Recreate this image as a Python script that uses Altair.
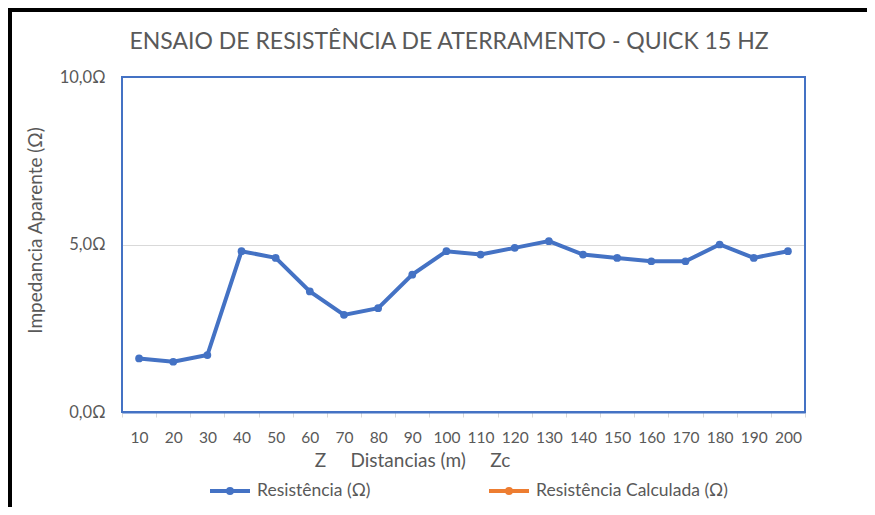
import altair as alt
import pandas as pd

distances = ["10", "20", "30", "40", "50", "60", "70", "80", "90", "100",
             "110", "120", "130", "140", "150", "160", "170", "180", "190", "200"]
resistencia = [1.6, 1.5, 1.7, 4.8, 4.6, 3.6, 2.9, 3.1, 4.1, 4.8,
               4.7, 4.9, 5.1, 4.7, 4.6, 4.5, 4.5, 5.0, 4.6, 4.8]
series_names = ["Resistência (Ω)", "Resistência Calculada (Ω)"]
series_colors = ["#4472C4", "#ED7D31"]
y_ticks = [0, 5, 10]
title_text = "ENSAIO DE RESISTÊNCIA DE ATERRAMENTO - QUICK 15 HZ"

df = pd.DataFrame({"dist": distances, "val": resistencia, "serie": series_names[0]})
one = pd.DataFrame({"k": [0]})

FONT = "Lato"
GREY = "#595959"
SP = "\u00a0" * 5

x_enc = alt.X("dist:O", sort=distances,
              scale=alt.Scale(type="band", paddingInner=0, paddingOuter=0),
              axis=alt.Axis(title="Z" + SP + "Distancias (m)" + SP + "Zc",
                            labelAngle=0, labelFontSize=15.5, labelColor=GREY, labelFont=FONT,
                            labelPadding=13, tickBand="extent", tickSize=5, tickColor="#D9D9D9",
                            domainColor="#4472C4", domainWidth=2,
                            titleFontSize=19, titleColor=GREY, titleFont=FONT, titleFontWeight="normal",
                            titleX=290, titleY=48, titleAlign="center", titleBaseline="middle",
                            grid=False))
y_enc = alt.Y("val:Q", scale=alt.Scale(domain=[0, 10]),
              axis=alt.Axis(values=y_ticks, title="Impedancia Aparente (Ω)",
                            labelExpr="replace(format(datum.value, '.1f'), '.', ',') + 'Ω'",
                            labelFontSize=16.5, labelColor=GREY, labelFont=FONT, labelPadding=17,
                            ticks=False, domain=False,
                            gridColor={"condition": {"test": "datum.value == 5", "value": "#D9D9D9"},
                                       "value": "transparent"},
                            titleFontSize=19, titleColor=GREY, titleFont=FONT, titleFontWeight="normal",
                            titleX=-87, titleY=153, titleAngle=-90, titleAlign="center",
                            titleBaseline="middle"))
color_enc = alt.Color("serie:N",
                      scale=alt.Scale(domain=series_names, range=series_colors),
                      legend=alt.Legend(title=None, orient="none", direction="horizontal",
                                        legendX=86, legendY=392,
                                        symbolType="M-1,0H1M-0.1,0A0.1,0.1,0,1,0,0.1,0A0.1,0.1,0,1,0,-0.1,0",
                                        symbolSize=1600, symbolStrokeWidth=4,
                                        labelFontSize=17.5, labelColor=GREY, labelFont=FONT,
                                        labelLimit=400, labelOffset=5, columnPadding=110))

line = alt.Chart(df).mark_line(strokeWidth=4).encode(x=x_enc, y=y_enc, color=color_enc)
points = alt.Chart(df).mark_point(filled=True, size=60, opacity=1).encode(
    x=alt.X("dist:O", sort=distances), y="val:Q",
    color=alt.Color("serie:N", legend=None))

plot_border = alt.Chart(one).mark_rect(fill=None, stroke="#4472C4", strokeWidth=2).encode(
    x=alt.value(0), x2=alt.value(683), y=alt.value(0), y2=alt.value(335))
frame_left = alt.Chart(one).mark_rule(color="black", strokeWidth=4).encode(
    x=alt.value(-112), y=alt.value(-69), y2=alt.value(430))
frame_top = alt.Chart(one).mark_rule(color="black", strokeWidth=4).encode(
    x=alt.value(-114), x2=alt.value(745), y=alt.value(-67))
title = alt.Chart(one).mark_text(font=FONT, fontSize=23, color=GREY, align="center",
                                 baseline="middle").encode(
    x=alt.value(327), y=alt.value(-35), text=alt.value(title_text))

chart = alt.layer(line, points, plot_border, frame_left, frame_top, title).properties(
    width=683, height=335,
    autosize=alt.AutoSizeParams(type="none"),
    padding={"left": 114, "top": 69, "right": 62, "bottom": 95},
).configure_view(stroke=None).configure(background="white")

chart.save("out.html", embed_options={"renderer": "svg", "actions": False})
